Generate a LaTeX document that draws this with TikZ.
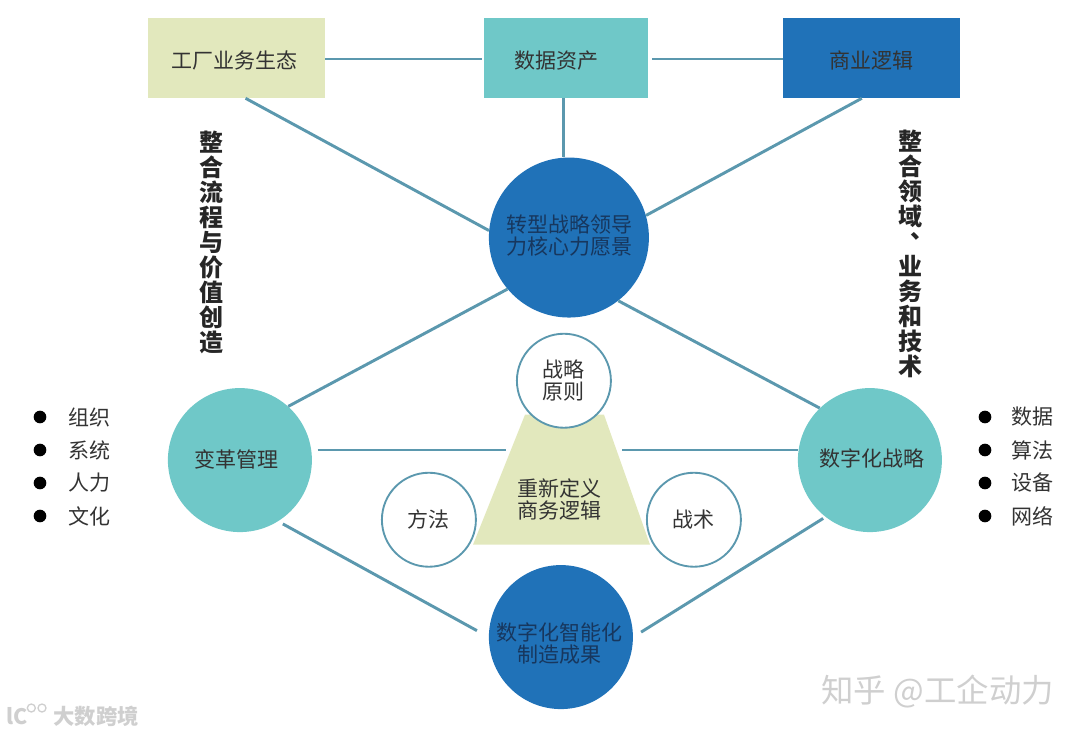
\documentclass[tikz,border=0pt]{standalone}
\usepackage{fontspec}
\newfontfamily\cjk{Noto Sans CJK SC}
\usepackage{tikz}
\usetikzlibrary{positioning, calc}

\definecolor{paleolive}{HTML}{E2E8BD}
\definecolor{midteal}{HTML}{6FC8C8}
\definecolor{deepblue}{HTML}{2072B8}
\definecolor{linkblue}{HTML}{5B98AE}
\definecolor{inkgrey}{HTML}{333333}
\definecolor{inknavy}{HTML}{17375E}
\definecolor{markgrey}{HTML}{CFCFCF}

\tikzset{
    bigbox/.style={draw=none, minimum height=60pt, inner sep=0pt},
    bigdisc/.style={circle, draw=none, inner sep=0pt},
    smalldisc/.style={circle, draw=linkblue, line width=1.4pt, fill=white, minimum size=70.5pt, inner sep=0pt, text=inkgrey},
    link/.style={draw=linkblue, line width=2.2pt},
    sidetext/.style={font=\cjk\bfseries\fontsize{18}{18.75}\selectfont, text=black!85, inner sep=0pt},
    listtext/.style={text=inkgrey, inner sep=0pt},
    bullet/.style={circle, fill=black, minimum size=9.5pt, inner sep=0pt},
    every label/.style={text=inkgrey, inner sep=0pt},
    navylabel/.style={text=inknavy}
}

\begin{document}
\begin{tikzpicture}[font=\cjk\fontsize{15.75}{16.5}\selectfont, align=center]
        \useasboundingbox (0,0) rectangle (810pt,-552pt);

        % Boxes
        \node[bigbox, fill=paleolive, minimum width=132.75pt, label={[xshift=-1.5pt,yshift=-1.5pt]center:工厂业务生态}] (eco) at (177.4pt,-43.5pt) {};
        \node[bigbox, fill=midteal, minimum width=123pt, right=118.75pt of eco, label={[xshift=-6.75pt,yshift=-2pt]center:数据资产}] (asset) {};
        \node[bigbox, fill=deepblue, minimum width=132.75pt, right=101.25pt of asset, label={[yshift=-1.5pt]center:商业逻辑}] (logic) {};

        % Discs
        \node[bigdisc, fill=deepblue, minimum size=120pt, below=44.25pt of asset, xshift=2.25pt, label={[navylabel,xshift=0.75pt,yshift=1.25pt]center:转型战略领导\\力核心力愿景}] (core) {};
        \node[bigdisc, fill=midteal, minimum size=108pt, below=52.5pt of core, xshift=-246.75pt, label={[xshift=-2.5pt,yshift=0.75pt]center:变革管理}] (change) {};
        \node[bigdisc, fill=midteal, minimum size=108pt, below=52.5pt of core, xshift=225.75pt, label={[xshift=1.5pt,yshift=1.5pt]center:数字化战略}] (digital) {};
        \node[bigdisc, fill=deepblue, minimum size=108pt, below=185.25pt of core, xshift=-6pt, label={[navylabel,xshift=-1.25pt,yshift=-5pt]center:数字化智能化\\制造成果}] (result) {};

        % Middle
        \coordinate (wedgea) at (354.75pt,-408.5pt);
        \coordinate (wedgeb) at (487.5pt,-408.5pt);
        \coordinate (wedgec) at (453pt,-311pt);
        \coordinate (wedged) at (393.75pt,-311pt);
        \fill[paleolive] (wedgea) -- (wedgeb) -- (wedgec) -- (wedged) -- cycle;
        \node[inner sep=0pt, text=inkgrey] (wedgetext) at (419.25pt,-374.5pt) {重新定义\\商务逻辑};
        \node[smalldisc, below=11.25pt of core, xshift=-3.75pt] (principle) {战略\\原则};
        \node[smalldisc, below=115.5pt of core, xshift=-105pt] (method) {方法};
        \node[smalldisc, below=115.5pt of core, xshift=93.75pt] (tactic) {战术};

        % Edges
        \coordinate (wedgeleft) at (379.5pt,-337.5pt);
        \coordinate (wedgeright) at (466.5pt,-337.5pt);
        \draw[link] ([yshift=-0.75pt]eco.east) -- ([xshift=-1.5pt,yshift=-0.75pt]asset.west);
        \draw[link] ([xshift=3pt,yshift=-0.75pt]asset.east) -- ([yshift=-0.75pt]logic.west);
        \draw[link] ([xshift=-1.5pt]asset.south) -- ([xshift=-3.75pt]core.north);
        \draw[link] ([xshift=6.75pt]eco.south) -- (core.175);
        \draw[link] ([xshift=59pt]logic.south west) -- (core.16.6);
        \draw[link] (core.220.5) -- (change.48);
        \draw[link] (core.308.4) -- (digital.134);
        \draw[link, shorten <=4pt] (change.east |- wedgeleft) -- (wedgeleft);
        \draw[link] (digital.west |- wedgeright) -- (wedgeright);
        \draw[link, shorten <=4pt, shorten >=10pt] (change.302) -- (result.180);
        \draw[link, shorten <=2pt, shorten >=7pt] (digital.232) -- (result.0);

        % Side texts
        \node[sidetext] (flowtext) at (158.25pt,-181.5pt) {整\\合\\流\\程\\与\\价\\值\\创\\造};
        \node[sidetext] (fieldtext) at (682.5pt,-190.5pt) {整\\合\\领\\域\\\smash{\raisebox{9pt}{\makebox[0pt][c]{\hspace{18pt}、}}}\\业\\务\\和\\技\\术};

        % Lists
        \foreach \label [count=\i] in {组织,系统,人力,文化} {
            \node[bullet] (leftdot\i) at (30pt,{-312.75pt-24.75pt*(\i-1)}) {};
            \node[listtext] (leftitem\i) at (67pt,{-312.75pt-24.75pt*(\i-1)}) {\label};
        }
        \foreach \label [count=\i] in {数据,算法,设备,网络} {
            \node[bullet] (rightdot\i) at (738.75pt,{-312.75pt-24.75pt*(\i-1)}) {};
            \node[listtext] (rightitem\i) at (774pt,{-312.75pt-24.75pt*(\i-1)}) {\label};
        }

        % Marks
        \node[text=markgrey, inner sep=0pt, font=\cjk\fontsize{24.3}{24}\selectfont] (zhihu) at (703.25pt,-518.5pt) {知乎 @工企动力};
        \node[text=markgrey, inner sep=0pt, font=\cjk\bfseries\fontsize{16}{16}\selectfont] (markname) at (72pt,-537pt) {大数跨境};
        \node[circle, draw=markgrey, line width=1pt, minimum size=6pt, inner sep=0pt] (markringa) at (23.5pt,-531pt) {};
        \node[circle, draw=markgrey, line width=1pt, minimum size=6pt, inner sep=0pt, right=1pt of markringa] (markringb) {};
        \node[text=markgrey, inner sep=0pt, font=\cjk\bfseries\fontsize{16}{16}\selectfont] (markone) at (12.5pt,-537pt) {lC};
\end{tikzpicture}
\end{document}
